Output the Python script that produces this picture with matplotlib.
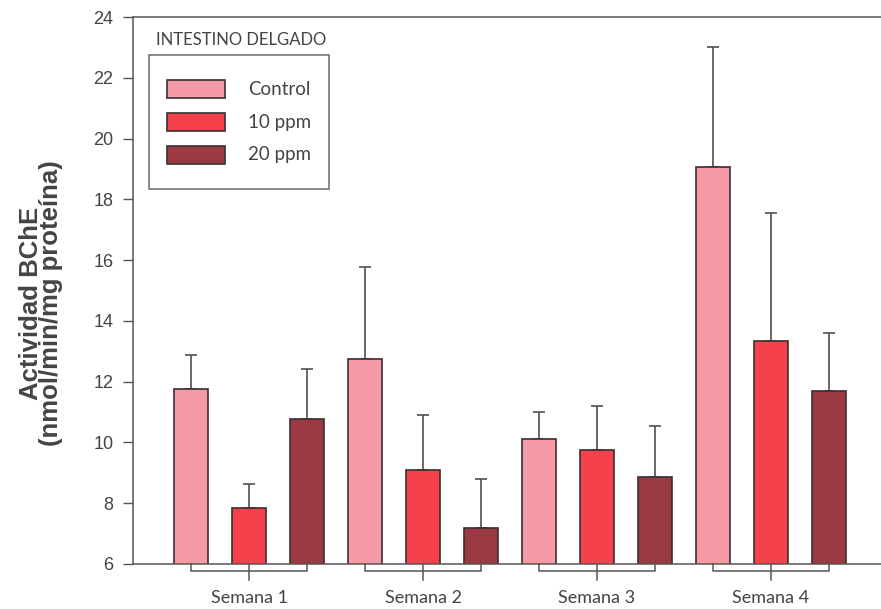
import matplotlib
matplotlib.use("Agg")
import matplotlib.pyplot as plt
from matplotlib.patches import Patch, Rectangle
from matplotlib.legend_handler import HandlerPatch
import numpy as np

weeks = ["Semana 1", "Semana 2", "Semana 3", "Semana 4"]
series = ["Control", "10 ppm", "20 ppm"]
control = [11.76, 12.75, 10.1, 19.05]
ppm10 = [7.84, 9.08, 9.75, 13.35]
ppm20 = [10.77, 7.18, 8.85, 11.7]
control_err = [1.11, 3.02, 0.9, 3.95]
ppm10_err = [0.79, 1.83, 1.45, 4.2]
ppm20_err = [1.64, 1.63, 1.7, 1.9]
yticks = [6, 8, 10, 12, 14, 16, 18, 20, 22, 24]
colors = ["#f59aa6", "#f5414c", "#9c3a44"]

W, H = 881, 609
fig = plt.figure(figsize=(W / 100, H / 100), dpi=100)
ax = fig.add_axes([133 / W, 1 - 564 / H, (W - 133) / W, (564 - 17) / H])

x = np.arange(len(weeks))
off = 1 / 3
bw = 0.2
vals = [control, ppm10, ppm20]
errs = [control_err, ppm10_err, ppm20_err]
edge = "#3a3030"
for i, (v, e, c, lab) in enumerate(zip(vals, errs, colors, series)):
    xs = x + (i - 1) * off
    ax.bar(xs, v, width=bw, color=c, edgecolor=edge, linewidth=1.2, label=lab, zorder=2)
    ax.errorbar(xs, v, yerr=[np.zeros(len(e)), e], fmt="none", ecolor="#505050",
                elinewidth=1.2, capsize=4.5, capthick=1.2, zorder=1)

ax.set_ylim(6, 24)
ax.set_xlim(-0.667, 3.632)
ax.set_yticks(yticks)
ax.set_yticklabels([str(t) for t in yticks], fontfamily="Liberation Sans", fontsize=13, color="#444444")
ax.tick_params(axis="y", direction="out", length=7, width=1, color="#555555", pad=7)
ax.set_xticks([])
for s in ["left", "top", "bottom"]:
    ax.spines[s].set_color("#555555")
    ax.spines[s].set_linewidth(1.1)
ax.spines["right"].set_visible(False)

# group brackets under the axis
trans = ax.get_xaxis_transform()
ypix = lambda p: -p / (564 - 17)
for g in x:
    l, r = g - off, g + off
    ax.plot([l, l, r, r], [0, ypix(7), ypix(7), 0], transform=trans, color="#555555",
            lw=1.1, clip_on=False)
    ax.plot([g, g], [0, ypix(16)], transform=trans, color="#555555", lw=1.1, clip_on=False)
    ax.text(g, ypix(34), weeks[g], transform=trans, ha="center", va="center",
            fontfamily="Lato", fontsize=13, color="#444444")

fig.text(41 / W, 1 - 303 / H, "Actividad BChE\n(nmol/min/mg proteína)", rotation=90,
         ha="center", va="center", multialignment="center", linespacing=0.75,
         fontfamily="Liberation Sans", fontweight="bold", fontsize=18.5, color="#444444")

fig.text(156 / W, 1 - 40 / H, "INTESTINO DELGADO", ha="left", va="center",
         fontfamily="Lato", fontsize=12, color="#444444")


def small_rect(legend, orig_handle, xdescent, ydescent, width, height, fontsize):
    hh = 13.0
    return Rectangle((-xdescent, -ydescent + (height - hh) / 2), width, hh)


handles = [Patch(facecolor=c, edgecolor=edge, linewidth=1.2) for c in colors]
leg = ax.legend(handles, series, loc="upper left",
                bbox_to_anchor=((149 - 133) / (W - 133), 1 - (55 - 17) / (564 - 17)),
                borderaxespad=0, frameon=True, fancybox=False, handlelength=3.1, handleheight=2.24,
                handletextpad=1.23, labelspacing=0.05, borderpad=0.96,
                handler_map={Patch: HandlerPatch(patch_func=small_rect)},
                prop={"family": "Lato", "size": 13.5})
leg.get_frame().set_edgecolor("#444444")
leg.get_frame().set_linewidth(1.1)
for t in leg.get_texts():
    t.set_color("#444444")

fig.savefig("out.png", dpi=100)
